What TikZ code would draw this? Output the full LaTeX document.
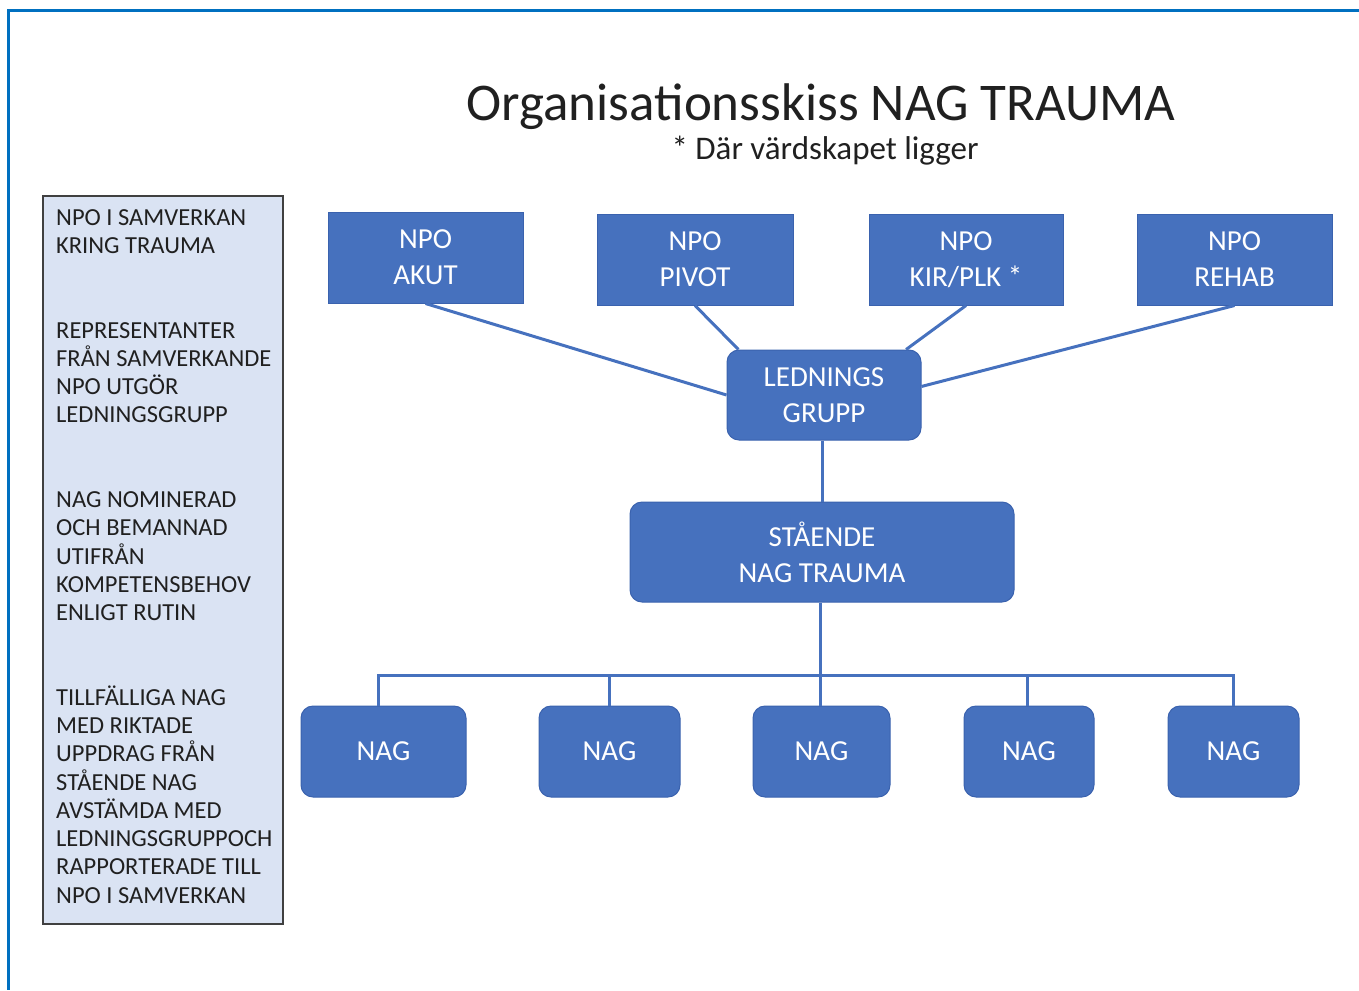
\documentclass[tikz,border=0pt]{standalone}
\usepackage{fontspec}
\setmainfont{Carlito}
\definecolor{boxblue}{HTML}{4671BE}
\definecolor{boxedge}{HTML}{3A62AE}
\definecolor{framecol}{HTML}{0070C0}
\definecolor{panelfill}{HTML}{DAE3F3}
\definecolor{paneledge}{HTML}{404040}
\definecolor{txt}{HTML}{202020}
\tikzset{
  npobox/.style={draw=boxedge, line width=1pt, fill=boxblue, text=white, align=center,
    minimum height=91pt, inner sep=0pt, font=\fontsize{29}{36}\selectfont},
  roundbox/.style={npobox, rounded corners=12pt},
  conn/.style={draw=boxblue, line width=3pt},
  paneltxt/.style={anchor=base west, inner sep=0pt, text=txt, font=\fontsize{24.5}{28}\selectfont}
}
\begin{document}
\begin{tikzpicture}[x=1pt,y=-1pt]
\useasboundingbox (0,0) rectangle (1359,990);
% frame
\draw[framecol, line width=3pt] (1359,11) -- (8,11) -- (8,990);
% title
\node[anchor=base, inner sep=0pt, text=txt, font=\fontsize{53}{60}\selectfont] (title) at (821,120) {Organisationsskiss NAG TRAUMA};
\node[anchor=base, inner sep=0pt, text=txt, font=\fontsize{33}{40}\selectfont] (sub) at (825,159) {* Där värdskapet ligger};
% left panel
\node[draw=paneledge, line width=2.5pt, fill=panelfill, minimum width=240pt, minimum height=728pt, inner sep=0pt] (panel) at (163,560) {};
\foreach \i/\t in {0/NPO I SAMVERKAN, 1/KRING TRAUMA,
  4/REPRESENTANTER, 5/FRÅN SAMVERKANDE, 6/NPO UTGÖR, 7/LEDNINGSGRUPP,
  10/NAG NOMINERAD, 11/OCH BEMANNAD, 12/UTIFRÅN, 13/KOMPETENSBEHOV, 14/ENLIGT RUTIN,
  17/TILLFÄLLIGA NAG, 18/MED RIKTADE, 19/UPPDRAG FRÅN, 20/STÅENDE NAG, 21/AVSTÄMDA MED,
  22/LEDNINGSGRUPPOCH, 23/RAPPORTERADE TILL, 24/NPO I SAMVERKAN}
  \node[paneltxt] (pl\i) at (56,225+28.25*\i) {\t};
% NPO boxes
\node[npobox, minimum width=195pt] (akut) at (425.5,257.5) {NPO\\AKUT};
\node[npobox, minimum width=196pt] (pivot) at (695,259.5) {NPO\\PIVOT};
\node[npobox, minimum width=194pt] (kir) at (966,259.5) {NPO\\KIR/PLK *};
\node[npobox, minimum width=195pt] (rehab) at (1234.5,259.5) {NPO\\REHAB};
% ledningsgrupp
\node[roundbox, minimum width=194pt, minimum height=90pt] (led) at (824,395) {LEDNINGS\\GRUPP};
% staende
\node[roundbox, minimum width=384pt, minimum height=100pt] (sta) at (822,552) {STÅENDE\\NAG TRAUMA};
% NAG boxes
\node[roundbox, minimum width=165pt] (nag1) at (383.5,751.5) {NAG};
\node[roundbox, minimum width=141pt] (nag2) at (609.5,751.5) {NAG};
\node[roundbox, minimum width=137pt] (nag3) at (821.5,751.5) {NAG};
\node[roundbox, minimum width=130pt] (nag4) at (1029,751.5) {NAG};
\node[roundbox, minimum width=131pt] (nag5) at (1233.5,751.5) {NAG};
% connectors
\draw[conn] (akut.south) -- (led.west);
\draw[conn] (pivot.south) -- (led.152);
\draw[conn] (kir.south) -- (led.29);
\draw[conn] (rehab.south) -- (led.5);
\draw[conn] (sta.north |- led.south) -- (sta.north);
\draw[conn] ([xshift=-1.5pt]sta.south) -- ([xshift=-1.5pt]sta.south |- nag3.north);
\coordinate (bus) at (820,675);
\draw[conn] ([xshift=-5pt]nag1.north) -- ([xshift=-5pt]nag1.north |- bus) -- (nag5.north |- bus) -- (nag5.north);
\draw[conn] (nag2.north) -- (nag2.north |- bus);
\draw[conn] ([xshift=-2pt]nag4.north) -- ([xshift=-2pt]nag4.north |- bus);
\end{tikzpicture}
\end{document}
